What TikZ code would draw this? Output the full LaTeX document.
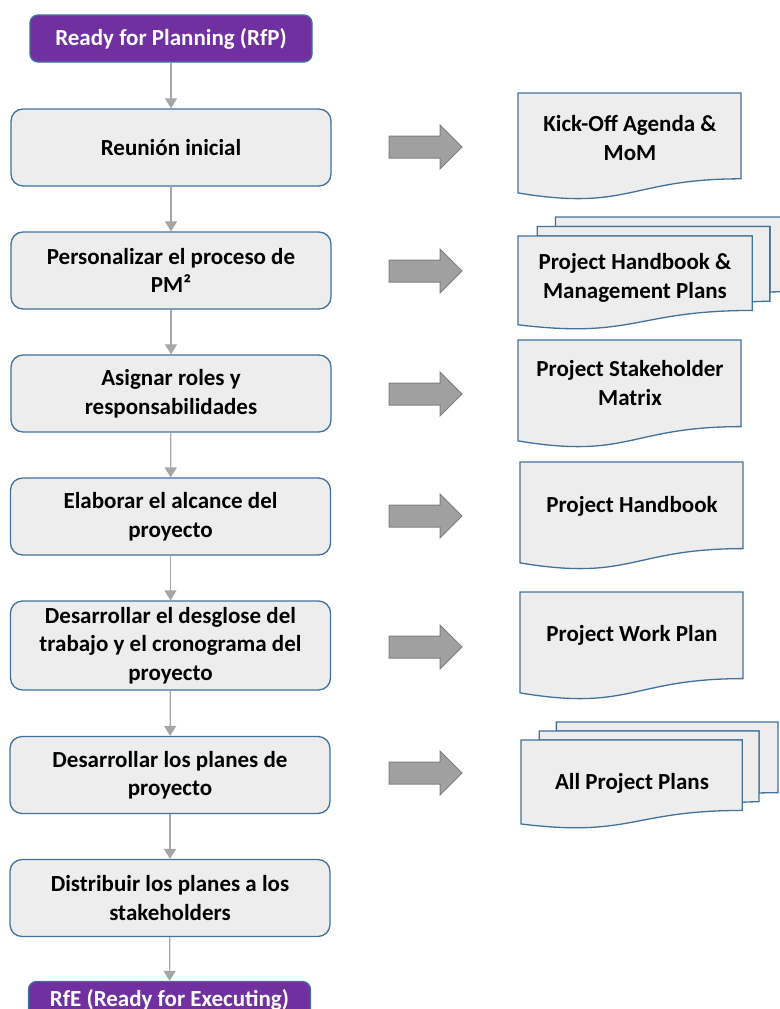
\documentclass[tikz,border=0pt]{standalone}
\usepackage{fontspec}
\setmainfont{Carlito}
\usepackage{tikz}
\usetikzlibrary{shapes,backgrounds,fit,positioning,arrows.meta}

\definecolor{rfpurple}{HTML}{7030A0}
\definecolor{boxline}{HTML}{41719C}
\definecolor{boxfill}{HTML}{EDEDED}
\definecolor{flowgray}{HTML}{A6A6A6}
\definecolor{bigarrow}{HTML}{A0A0A0}
\definecolor{bigarrowline}{HTML}{7F7F7F}

\tikzset{
  stepbox/.style={draw=boxline, fill=boxfill, line width=1.3pt, rounded corners=12pt,
    minimum width=320pt, minimum height=77pt, inner sep=0pt, align=center,
    font=\bfseries\fontsize{23}{28.5}\selectfont},
  readybox/.style={draw=boxline, fill=rfpurple, text=white, line width=1.3pt, rounded corners=8pt,
    minimum width=282pt, minimum height=47pt, inner sep=0pt,
    font=\bfseries\fontsize{23}{28.5}\selectfont},
  flowline/.style={draw, color=flowgray, line width=1.2pt, -{Triangle[width=12pt,length=10pt]}},
  doctext/.style={align=center, font=\bfseries\fontsize{23}{28.5}\selectfont},
  sheet/.style={draw=boxline, fill=boxfill, line width=1.3pt},
  bigarrowstyle/.style={draw=bigarrowline, fill=bigarrow, line width=1pt}
}

\newcommand{\docsheet}[4]{%
\path[sheet] (#1,#2) -- ({#1+#3},#2) -- ({#1+#3},{#2+0.802*#4})
  .. controls ({#1+0.5*#3},{#2+0.802*#4}) and ({#1+0.5*#3},{#2+1.107*#4}) .. (#1,{#2+0.934*#4}) -- cycle;}

\newcommand{\docstack}[4]{%
\path[sheet] ({#1+0.1376*#3},{#2+0.084*#4}) -- ({#1+0.1376*#3},#2) -- ({#1+#3},#2) -- ({#1+#3},{#2+0.6663*#4})
  .. controls ({#1+0.963*#3},{#2+0.6663*#4}) and ({#1+0.9259*#3},{#2+0.6698*#4}) .. ({#1+0.9259*#3},{#2+0.6698*#4}) -- ({#1+0.9259*#3},{#2+0.084*#4}) -- cycle;
\path[sheet] ({#1+0.0709*#3},{#2+0.17*#4}) -- ({#1+0.0709*#3},{#2+0.084*#4}) -- ({#1+0.9259*#3},{#2+0.084*#4}) -- ({#1+0.9259*#3},{#2+0.7524*#4})
  .. controls ({#1+0.8934*#3},{#2+0.7524*#4}) and ({#1+0.8609*#3},{#2+0.757*#4}) .. ({#1+0.8609*#3},{#2+0.757*#4}) -- ({#1+0.8609*#3},{#2+0.17*#4}) -- cycle;
\path[sheet] (#1,{#2+0.9621*#4}) .. controls ({#1+0.4305*#3},{#2+1.0899*#4}) and ({#1+0.4305*#3},{#2+0.8344*#4}) .. ({#1+0.8609*#3},{#2+0.8344*#4})
  -- ({#1+0.8609*#3},{#2+0.17*#4}) -- (#1,{#2+0.17*#4}) -- cycle;}

\newcommand{\blockarrow}[2]{%
\path[bigarrowstyle] (#1,{#2-11}) -- ({#1+51},{#2-11}) -- ({#1+51},{#2-22}) -- ({#1+73},#2)
  -- ({#1+51},{#2+22}) -- ({#1+51},{#2+11}) -- (#1,{#2+11}) -- cycle;}

\begin{document}
\begin{tikzpicture}[x=1pt,y=-1pt]
\useasboundingbox (0,0) rectangle (779,1009);
\node[readybox] (RfP) at (171,38.5) {Ready for Planning (RfP)};
\node[stepbox] (S1) at (171,147.5) {Reunión inicial};
\node[stepbox] (S2) at (171,270.5) {Personalizar el proceso de\\PM²};
\node[stepbox] (S3) at (171,393.5) {Asignar roles y\\responsabilidades};
\node[stepbox] (S4) at (170.5,516.5) {Elaborar el alcance del\\proyecto};
\node[stepbox, minimum height=89pt] (S5) at (170.5,645.5) {Desarrollar el desglose del\\trabajo y el cronograma del\\proyecto};
\node[stepbox] (S6) at (170,775) {Desarrollar los planes de\\proyecto};
\node[stepbox] (S7) at (170,898) {Distribuir los planes a los\\stakeholders};
\node[readybox, minimum height=36pt] (RfE) at (169.5,999.5) {RfE (Ready for Executing)};
\path [flowline] (RfP) -- (S1);
\path [flowline] (S1) -- (S2);
\path [flowline] (S2) -- (S3);
\path [flowline] (S3) -- (S4);
\path [flowline] (S4) -- (S5);
\path [flowline] (S5) -- (S6);
\path [flowline] (S6) -- (S7);
\path [flowline] (S7) -- (RfE);
\blockarrow{389}{147}
\blockarrow{389}{271}
\blockarrow{389}{394}
\blockarrow{389}{516}
\blockarrow{389}{647}
\blockarrow{389}{773}
\docsheet{518}{93}{223}{107}
\docstack{518}{217}{272}{112}
\docsheet{518}{340}{223}{108}
\docsheet{520}{462}{223}{108}
\docsheet{520}{592}{223}{108}
\docstack{521}{722}{257}{106}
\node[doctext] (D1) at (630,138) {Kick-Off Agenda \&\\MoM};
\node[doctext] (D2) at (635,278) {Project Handbook \&\\Management Plans};
\node[doctext] (D3) at (630,383) {Project Stakeholder\\Matrix};
\node[doctext] (D4) at (632,506) {Project Handbook};
\node[doctext] (D5) at (632,635) {Project Work Plan};
\node[doctext] (D6) at (632,783) {All Project Plans};
\end{tikzpicture}
\end{document}
